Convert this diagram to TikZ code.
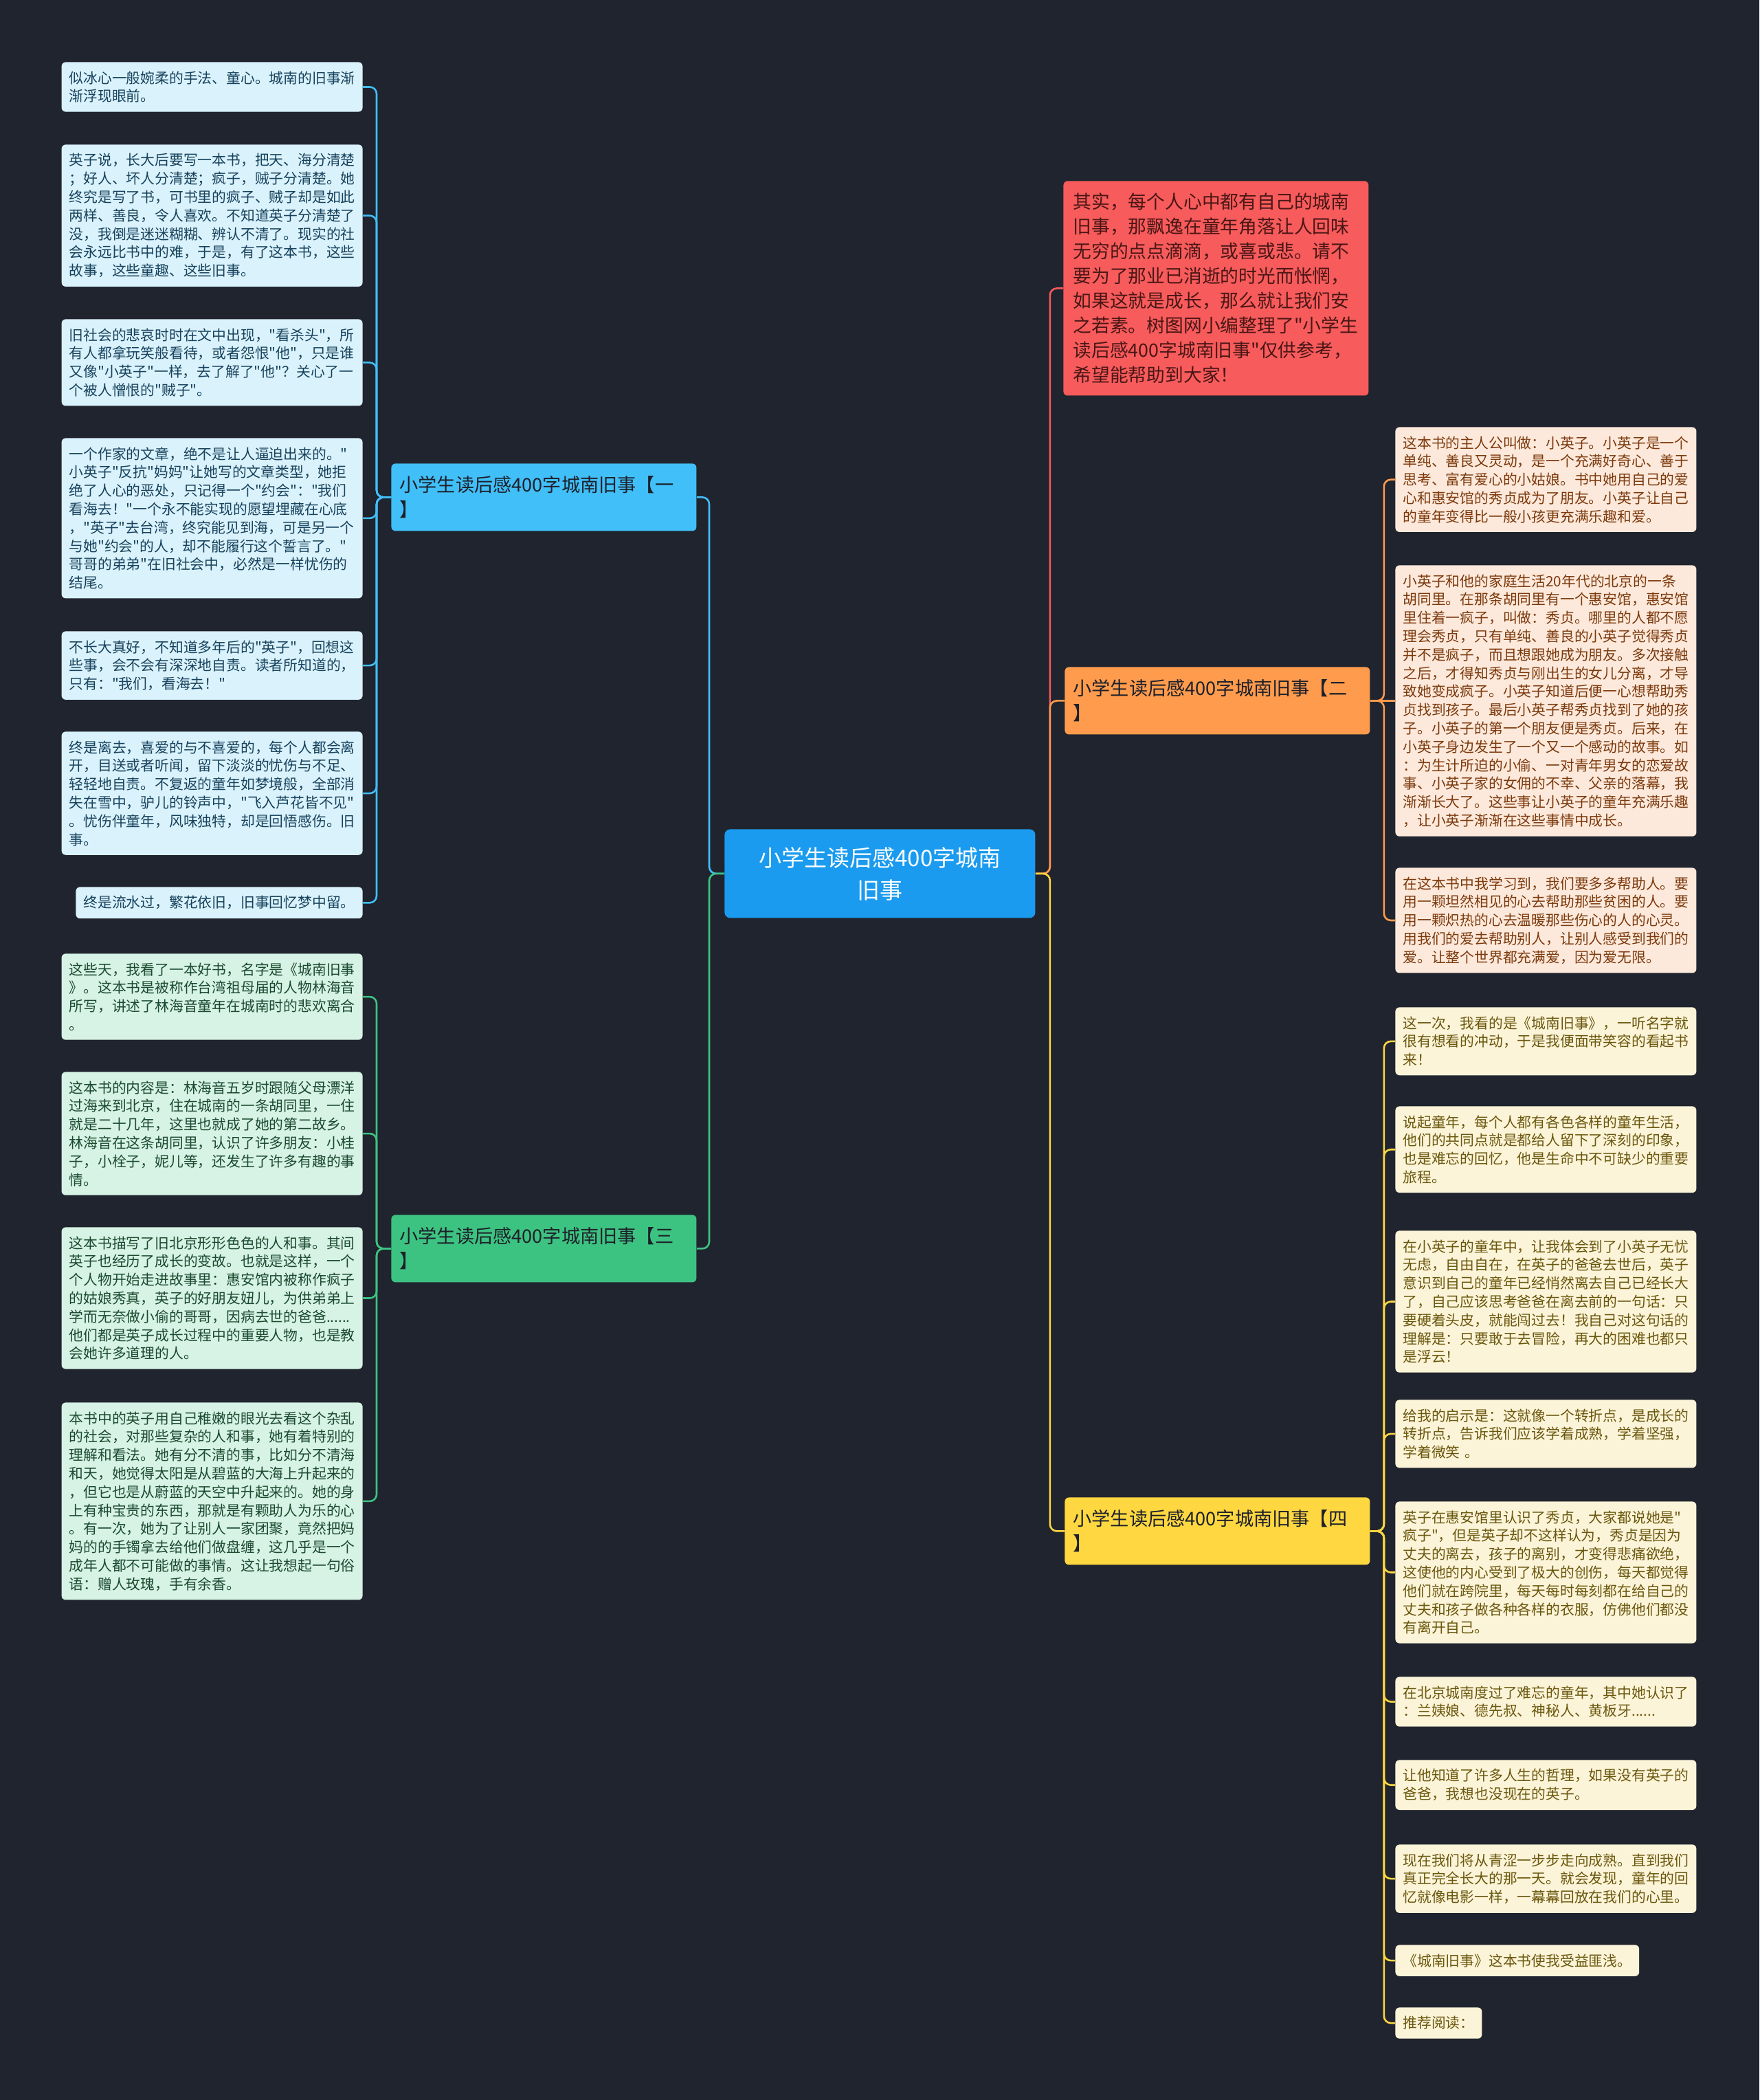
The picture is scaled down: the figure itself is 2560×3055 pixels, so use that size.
\documentclass[tikz,border=0pt]{standalone}
\usepackage{fontspec}
\newfontfamily\cjk{Noto Sans CJK SC}
\definecolor{bg}{HTML}{20242F}
\definecolor{core}{HTML}{1A9BEF}
\definecolor{sky}{HTML}{41BFF8}
\definecolor{skyl}{HTML}{DAF2FC}
\definecolor{skyt}{HTML}{17425C}
\definecolor{mint}{HTML}{3DC381}
\definecolor{mintl}{HTML}{D7F3E5}
\definecolor{mintt}{HTML}{1B4A30}
\definecolor{coral}{HTML}{F75B5B}
\definecolor{coralt}{HTML}{4A1616}
\definecolor{amber}{HTML}{FF9B4C}
\definecolor{amberl}{HTML}{FDE9DB}
\definecolor{ambert}{HTML}{7B390C}
\definecolor{gold}{HTML}{FFD740}
\definecolor{goldl}{HTML}{FCF4D8}
\definecolor{goldt}{HTML}{6A570E}

\begin{document}
\begin{tikzpicture}[
    x=0.5pt, y=-0.5pt,
    font=\cjk\fontsize{10.4}{13.4}\selectfont,
    root/.style={rectangle, rounded corners=4pt, fill=core, text=white, align=center, font=\cjk\fontsize{16.5}{23.5}\selectfont, minimum width=226pt, minimum height=64.5pt, inner sep=0pt, anchor=north west},
    br/.style={rectangle, rounded corners=3pt, align=left, text width=210pt, inner xsep=6pt, minimum height=49pt, font=\cjk\fontsize{13.6}{18}\selectfont, text=bg!90!black, anchor=north west},
    leaf/.style={rectangle, rounded corners=3pt, align=left, inner xsep=5.5pt, inner ysep=6.5pt},
    wide/.style={text width=208pt},
    bl/.style={leaf, fill=skyl, text=skyt, anchor=north east},
    gl/.style={leaf, fill=mintl, text=mintt, anchor=north east},
    ol/.style={leaf, fill=amberl, text=ambert, anchor=north west},
    yl/.style={leaf, fill=goldl, text=goldt, anchor=north west},
    link/.style={line width=1.3pt, rounded corners=5pt},
  ]
  \fill[bg] (0,0) rectangle (2560,3055);
  \useasboundingbox (0,0) rectangle (2560,3055);
  % ------------------------------------------------------------------ centre
  \node[root] (ctr) at (1054,1206) {小学生读后感400字城南\\旧事};
  % ------------------------------------------------------------------ intro note
  \node[rectangle, rounded corners=3pt, fill=coral, text=coralt, align=left, text width=208pt, inner xsep=7pt, inner ysep=8.8pt,
        font=\cjk\fontsize{13.4}{18}\selectfont, anchor=north west] (intro) at (1547,263)
    {其实，每个人心中都有自己的城南\\旧事，那飘逸在童年角落让人回味\\无穷的点点滴滴，或喜或悲。请不\\要为了那业已消逝的时光而怅惘，\\如果这就是成长，那么就让我们安\\之若素。树图网小编整理了"小学生\\读后感400字城南旧事"仅供参考，\\希望能帮助到大家！};
  % ------------------------------------------------------------------ (一) blue, left
  \begin{scope}
    \node[br, fill=sky] (b1) at (569,674) {小学生读后感400字城南旧事【一\\】};
    \node[bl, wide] (l1) at (528,90) {似冰心一般婉柔的手法、童心。城南的旧事渐\\渐浮现眼前。};
    \node[bl, wide] (l2) at (528,210) {英子说，长大后要写一本书，把天、海分清楚\\；好人、坏人分清楚；疯子，贼子分清楚。她\\终究是写了书，可书里的疯子、贼子却是如此\\两样、善良，令人喜欢。不知道英子分清楚了\\没，我倒是迷迷糊糊、辨认不清了。现实的社\\会永远比书中的难，于是，有了这本书，这些\\故事，这些童趣、这些旧事。};
    \node[bl, wide] (l3) at (528,464) {旧社会的悲哀时时在文中出现，"看杀头"，所\\有人都拿玩笑般看待，或者怨恨"他"，只是谁\\又像"小英子"一样，去了解了"他"？关心了一\\个被人憎恨的"贼子"。};
    \node[bl, wide] (l4) at (528,637) {一个作家的文章，绝不是让人逼迫出来的。"\\小英子"反抗"妈妈"让她写的文章类型，她拒\\绝了人心的恶处，只记得一个"约会"："我们\\看海去！"一个永不能实现的愿望埋藏在心底\\，"英子"去台湾，终究能见到海，可是另一个\\与她"约会"的人，却不能履行这个誓言了。"\\哥哥的弟弟"在旧社会中，必然是一样忧伤的\\结尾。};
    \node[bl, wide] (l5) at (528,918) {不长大真好，不知道多年后的"英子"，回想这\\些事，会不会有深深地自责。读者所知道的，\\只有："我们，看海去！"};
    \node[bl, wide] (l6) at (528,1064) {终是离去，喜爱的与不喜爱的，每个人都会离\\开，目送或者听闻，留下淡淡的忧伤与不足、\\轻轻地自责。不复返的童年如梦境般，全部消\\失在雪中，驴儿的铃声中，"飞入芦花皆不见"\\。忧伤伴童年，风味独特，却是回悟感伤。旧\\事。};
    \node[bl] (l7) at (528,1290) {终是流水过，繁花依旧，旧事回忆梦中留。};
    \draw[link, sky] (ctr.west) -- ++(-22,0) |- (b1.east);
    \foreach \k in {1,...,7} {
      \draw[link, sky] (b1.west) -- ++(-21,0) |- (l\k.east);
    }
  \end{scope}
  % ------------------------------------------------------------------ (三) green, left
  \begin{scope}
    \node[br, fill=mint] (b3) at (569,1767) {小学生读后感400字城南旧事【三\\】};
    \node[gl, wide] (g1) at (528,1387) {这些天，我看了一本好书，名字是《城南旧事\\》。这本书是被称作台湾祖母届的人物林海音\\所写，讲述了林海音童年在城南时的悲欢离合\\。};
    \node[gl, wide] (g2) at (528,1559) {这本书的内容是：林海音五岁时跟随父母漂洋\\过海来到北京，住在城南的一条胡同里，一住\\就是二十几年，这里也就成了她的第二故乡。\\林海音在这条胡同里，认识了许多朋友：小桂\\子，小栓子，妮儿等，还发生了许多有趣的事\\情。};
    \node[gl, wide] (g3) at (528,1785) {这本书描写了旧北京形形色色的人和事。其间\\英子也经历了成长的变故。也就是这样，一个\\个人物开始走进故事里：惠安馆内被称作疯子\\的姑娘秀真，英子的好朋友妞儿，为供弟弟上\\学而无奈做小偷的哥哥，因病去世的爸爸......\\他们都是英子成长过程中的重要人物，也是教\\会她许多道理的人。};
    \node[gl, wide] (g4) at (528,2040) {本书中的英子用自己稚嫩的眼光去看这个杂乱\\的社会，对那些复杂的人和事，她有着特别的\\理解和看法。她有分不清的事，比如分不清海\\和天，她觉得太阳是从碧蓝的大海上升起来的\\，但它也是从蔚蓝的天空中升起来的。她的身\\上有种宝贵的东西，那就是有颗助人为乐的心\\。有一次，她为了让别人一家团聚，竟然把妈\\妈的的手镯拿去给他们做盘缠，这几乎是一个\\成年人都不可能做的事情。这让我想起一句俗\\语：赠人玫瑰，手有余香。};
    \draw[link, mint] (ctr.west) -- ++(-22,0) |- (b3.east);
    \foreach \k in {1,...,4} {
      \draw[link, mint] (b3.west) -- ++(-21,0) |- (g\k.east);
    }
  \end{scope}
  % ------------------------------------------------------------------ (二) orange, right
  \begin{scope}
    \node[br, fill=amber] (b2) at (1549,970) {小学生读后感400字城南旧事【二\\】};
    \node[ol, wide] (o1) at (2030,621) {这本书的主人公叫做：小英子。小英子是一个\\单纯、善良又灵动，是一个充满好奇心、善于\\思考、富有爱心的小姑娘。书中她用自己的爱\\心和惠安馆的秀贞成为了朋友。小英子让自己\\的童年变得比一般小孩更充满乐趣和爱。};
    \node[ol, wide] (o2) at (2030,822) {小英子和他的家庭生活20年代的北京的一条\\胡同里。在那条胡同里有一个惠安馆，惠安馆\\里住着一疯子，叫做：秀贞。哪里的人都不愿\\理会秀贞，只有单纯、善良的小英子觉得秀贞\\并不是疯子，而且想跟她成为朋友。多次接触\\之后，才得知秀贞与刚出生的女儿分离，才导\\致她变成疯子。小英子知道后便一心想帮助秀\\贞找到孩子。最后小英子帮秀贞找到了她的孩\\子。小英子的第一个朋友便是秀贞。后来，在\\小英子身边发生了一个又一个感动的故事。如\\：为生计所迫的小偷、一对青年男女的恋爱故\\事、小英子家的女佣的不幸、父亲的落幕，我\\渐渐长大了。这些事让小英子的童年充满乐趣\\，让小英子渐渐在这些事情中成长。};
    \node[ol, wide] (o3) at (2030,1262) {在这本书中我学习到，我们要多多帮助人。要\\用一颗坦然相见的心去帮助那些贫困的人。要\\用一颗炽热的心去温暖那些伤心的人的心灵。\\用我们的爱去帮助别人，让别人感受到我们的\\爱。让整个世界都充满爱，因为爱无限。};
    \draw[link, coral] (ctr.east) -- ++(21,0) |- (intro.west);
    \draw[link, amber] (ctr.east) -- ++(21,0) |- (b2.west);
    \draw[link, amber] (b2.east) -- ++(20,0) |- (o1.west);
    \draw[link, amber] (b2.east) -- (o2.west);
    \draw[link, amber] (b2.east) -- ++(20,0) |- (o3.west);
  \end{scope}
  % ------------------------------------------------------------------ (四) yellow, right
  \begin{scope}
    \node[br, fill=gold] (b4) at (1549,2178) {小学生读后感400字城南旧事【四\\】};
    \node[yl, wide] (y1) at (2030,1465) {这一次，我看的是《城南旧事》，一听名字就\\很有想看的冲动，于是我便面带笑容的看起书\\来！};
    \node[yl, wide] (y2) at (2030,1609) {说起童年，每个人都有各色各样的童年生活，\\他们的共同点就是都给人留下了深刻的印象，\\也是难忘的回忆，他是生命中不可缺少的重要\\旅程。};
    \node[yl, wide] (y3) at (2030,1790) {在小英子的童年中，让我体会到了小英子无忧\\无虑，自由自在，在英子的爸爸去世后，英子\\意识到自己的童年已经悄然离去自己已经长大\\了，自己应该思考爸爸在离去前的一句话：只\\要硬着头皮，就能闯过去！我自己对这句话的\\理解是：只要敢于去冒险，再大的困难也都只\\是浮云！};
    \node[yl, wide] (y4) at (2030,2036) {给我的启示是：这就像一个转折点，是成长的\\转折点，告诉我们应该学着成熟，学着坚强，\\学着微笑 。};
    \node[yl, wide] (y5) at (2030,2184) {英子在惠安馆里认识了秀贞，大家都说她是"\\疯子"，但是英子却不这样认为，秀贞是因为\\丈夫的离去，孩子的离别，才变得悲痛欲绝，\\这使他的内心受到了极大的创伤，每天都觉得\\他们就在跨院里，每天每时每刻都在给自己的\\丈夫和孩子做各种各样的衣服，仿佛他们都没\\有离开自己。};
    \node[yl, wide] (y6) at (2030,2439) {在北京城南度过了难忘的童年，其中她认识了\\：兰姨娘、德先叔、神秘人、黄板牙......};
    \node[yl, wide] (y7) at (2030,2560) {让他知道了许多人生的哲理，如果没有英子的\\爸爸，我想也没现在的英子。};
    \node[yl, wide] (y8) at (2030,2683) {现在我们将从青涩一步步走向成熟。直到我们\\真正完全长大的那一天。就会发现，童年的回\\忆就像电影一样，一幕幕回放在我们的心里。};
    \node[yl] (y9) at (2030,2829) {《城南旧事》这本书使我受益匪浅。};
    \node[yl] (y10) at (2030,2920) {推荐阅读：};
    \draw[link, gold] (ctr.east) -- ++(21,0) |- (b4.west);
    \foreach \k in {1,...,10} {
      \draw[link, gold] (b4.east) -- ++(20,0) |- (y\k.west);
    }
  \end{scope}
\end{tikzpicture}
\end{document}
